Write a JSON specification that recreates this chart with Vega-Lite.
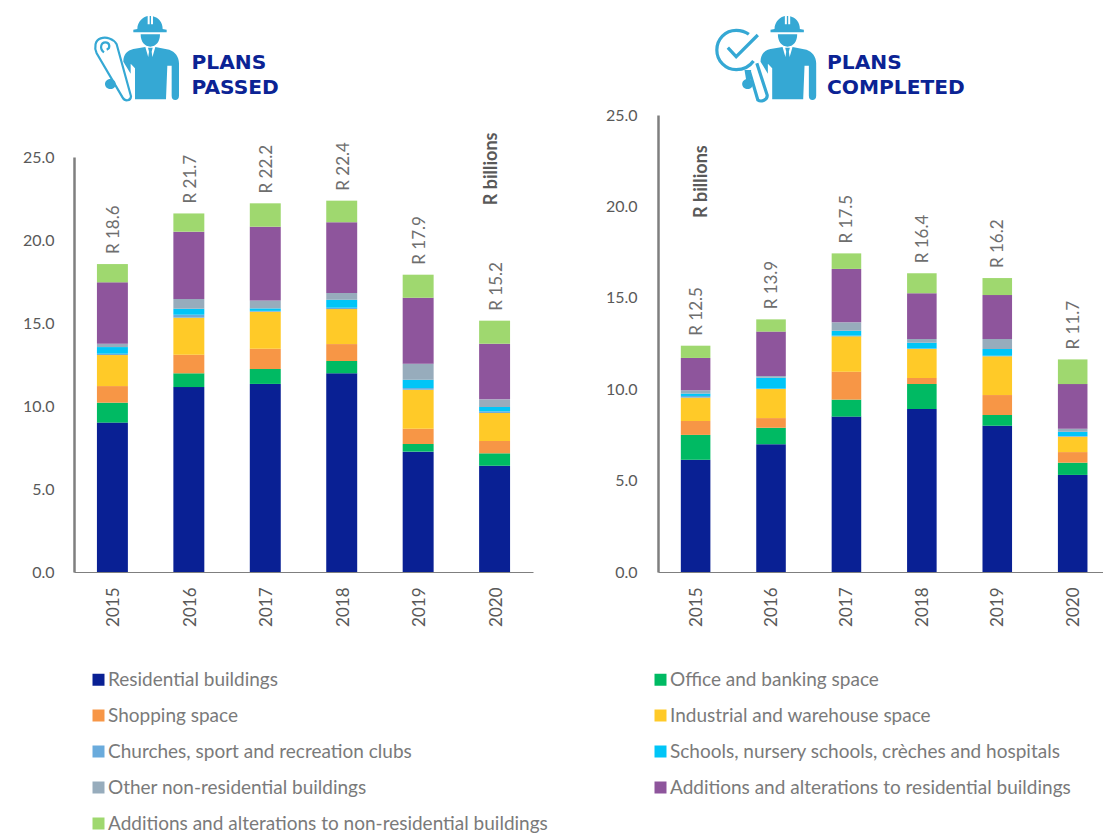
{"$schema":"https://vega.github.io/schema/vega-lite/v6.json","background":"white","padding":{"left":22,"top":0,"right":0,"bottom":0},"config":{"view":{"stroke":null},"font":"Lato","axis":{"labelFont":"Lato","grid":false,"ticks":false,"title":null}},
"datasets":{
"passed":[
{"year":"2015","category":"Residential buildings","rank":1,"value":9.0},{"year":"2015","category":"Office and banking space","rank":2,"value":1.2},{"year":"2015","category":"Shopping space","rank":3,"value":1.0},{"year":"2015","category":"Industrial and warehouse space","rank":4,"value":1.87},{"year":"2015","category":"Churches, sport and recreation clubs","rank":5,"value":0.08},{"year":"2015","category":"Schools, nursery schools, crèches and hospitals","rank":6,"value":0.4},{"year":"2015","category":"Other non-residential buildings","rank":7,"value":0.2},{"year":"2015","category":"Additions and alterations to residential buildings","rank":8,"value":3.7},{"year":"2015","category":"Additions and alterations to non-residential buildings","rank":9,"value":1.1},
{"year":"2016","category":"Residential buildings","rank":1,"value":11.14},{"year":"2016","category":"Office and banking space","rank":2,"value":0.83},{"year":"2016","category":"Shopping space","rank":3,"value":1.12},{"year":"2016","category":"Industrial and warehouse space","rank":4,"value":2.23},{"year":"2016","category":"Churches, sport and recreation clubs","rank":5,"value":0.18},{"year":"2016","category":"Schools, nursery schools, crèches and hospitals","rank":6,"value":0.36},{"year":"2016","category":"Other non-residential buildings","rank":7,"value":0.59},{"year":"2016","category":"Additions and alterations to residential buildings","rank":8,"value":4.05},{"year":"2016","category":"Additions and alterations to non-residential buildings","rank":9,"value":1.1},
{"year":"2017","category":"Residential buildings","rank":1,"value":11.33},{"year":"2017","category":"Office and banking space","rank":2,"value":0.9},{"year":"2017","category":"Shopping space","rank":3,"value":1.22},{"year":"2017","category":"Industrial and warehouse space","rank":4,"value":2.23},{"year":"2017","category":"Churches, sport and recreation clubs","rank":5,"value":0.05},{"year":"2017","category":"Schools, nursery schools, crèches and hospitals","rank":6,"value":0.15},{"year":"2017","category":"Other non-residential buildings","rank":7,"value":0.48},{"year":"2017","category":"Additions and alterations to residential buildings","rank":8,"value":4.44},{"year":"2017","category":"Additions and alterations to non-residential buildings","rank":9,"value":1.41},
{"year":"2018","category":"Residential buildings","rank":1,"value":11.97},{"year":"2018","category":"Office and banking space","rank":2,"value":0.74},{"year":"2018","category":"Shopping space","rank":3,"value":1.02},{"year":"2018","category":"Industrial and warehouse space","rank":4,"value":2.11},{"year":"2018","category":"Churches, sport and recreation clubs","rank":5,"value":0.08},{"year":"2018","category":"Schools, nursery schools, crèches and hospitals","rank":6,"value":0.48},{"year":"2018","category":"Other non-residential buildings","rank":7,"value":0.41},{"year":"2018","category":"Additions and alterations to residential buildings","rank":8,"value":4.26},{"year":"2018","category":"Additions and alterations to non-residential buildings","rank":9,"value":1.3},
{"year":"2019","category":"Residential buildings","rank":1,"value":7.25},{"year":"2019","category":"Office and banking space","rank":2,"value":0.46},{"year":"2019","category":"Shopping space","rank":3,"value":0.92},{"year":"2019","category":"Industrial and warehouse space","rank":4,"value":2.35},{"year":"2019","category":"Churches, sport and recreation clubs","rank":5,"value":0.1},{"year":"2019","category":"Schools, nursery schools, crèches and hospitals","rank":6,"value":0.5},{"year":"2019","category":"Other non-residential buildings","rank":7,"value":0.97},{"year":"2019","category":"Additions and alterations to residential buildings","rank":8,"value":3.97},{"year":"2019","category":"Additions and alterations to non-residential buildings","rank":9,"value":1.39},
{"year":"2020","category":"Residential buildings","rank":1,"value":6.4},{"year":"2020","category":"Office and banking space","rank":2,"value":0.75},{"year":"2020","category":"Shopping space","rank":3,"value":0.74},{"year":"2020","category":"Industrial and warehouse space","rank":4,"value":1.69},{"year":"2020","category":"Churches, sport and recreation clubs","rank":5,"value":0.1},{"year":"2020","category":"Schools, nursery schools, crèches and hospitals","rank":6,"value":0.26},{"year":"2020","category":"Other non-residential buildings","rank":7,"value":0.46},{"year":"2020","category":"Additions and alterations to residential buildings","rank":8,"value":3.35},{"year":"2020","category":"Additions and alterations to non-residential buildings","rank":9,"value":1.39}
],
"completed":[
{"year":"2015","category":"Residential buildings","rank":1,"value":6.14},{"year":"2015","category":"Office and banking space","rank":2,"value":1.36},{"year":"2015","category":"Shopping space","rank":3,"value":0.76},{"year":"2015","category":"Industrial and warehouse space","rank":4,"value":1.28},{"year":"2015","category":"Churches, sport and recreation clubs","rank":5,"value":0.09},{"year":"2015","category":"Schools, nursery schools, crèches and hospitals","rank":6,"value":0.13},{"year":"2015","category":"Other non-residential buildings","rank":7,"value":0.18},{"year":"2015","category":"Additions and alterations to residential buildings","rank":8,"value":1.77},{"year":"2015","category":"Additions and alterations to non-residential buildings","rank":9,"value":0.67},
{"year":"2016","category":"Residential buildings","rank":1,"value":6.99},{"year":"2016","category":"Office and banking space","rank":2,"value":0.9},{"year":"2016","category":"Shopping space","rank":3,"value":0.53},{"year":"2016","category":"Industrial and warehouse space","rank":4,"value":1.59},{"year":"2016","category":"Churches, sport and recreation clubs","rank":5,"value":0.02},{"year":"2016","category":"Schools, nursery schools, crèches and hospitals","rank":6,"value":0.6},{"year":"2016","category":"Other non-residential buildings","rank":7,"value":0.09},{"year":"2016","category":"Additions and alterations to residential buildings","rank":8,"value":2.43},{"year":"2016","category":"Additions and alterations to non-residential buildings","rank":9,"value":0.67},
{"year":"2017","category":"Residential buildings","rank":1,"value":8.5},{"year":"2017","category":"Office and banking space","rank":2,"value":0.93},{"year":"2017","category":"Shopping space","rank":3,"value":1.53},{"year":"2017","category":"Industrial and warehouse space","rank":4,"value":1.93},{"year":"2017","category":"Churches, sport and recreation clubs","rank":5,"value":0.04},{"year":"2017","category":"Schools, nursery schools, crèches and hospitals","rank":6,"value":0.27},{"year":"2017","category":"Other non-residential buildings","rank":7,"value":0.46},{"year":"2017","category":"Additions and alterations to residential buildings","rank":8,"value":2.92},{"year":"2017","category":"Additions and alterations to non-residential buildings","rank":9,"value":0.85},
{"year":"2018","category":"Residential buildings","rank":1,"value":8.92},{"year":"2018","category":"Office and banking space","rank":2,"value":1.36},{"year":"2018","category":"Shopping space","rank":3,"value":0.33},{"year":"2018","category":"Industrial and warehouse space","rank":4,"value":1.59},{"year":"2018","category":"Churches, sport and recreation clubs","rank":5,"value":0.03},{"year":"2018","category":"Schools, nursery schools, crèches and hospitals","rank":6,"value":0.31},{"year":"2018","category":"Other non-residential buildings","rank":7,"value":0.21},{"year":"2018","category":"Additions and alterations to residential buildings","rank":8,"value":2.5},{"year":"2018","category":"Additions and alterations to non-residential buildings","rank":9,"value":1.09},
{"year":"2019","category":"Residential buildings","rank":1,"value":8.0},{"year":"2019","category":"Office and banking space","rank":2,"value":0.59},{"year":"2019","category":"Shopping space","rank":3,"value":1.09},{"year":"2019","category":"Industrial and warehouse space","rank":4,"value":2.12},{"year":"2019","category":"Churches, sport and recreation clubs","rank":5,"value":0.03},{"year":"2019","category":"Schools, nursery schools, crèches and hospitals","rank":6,"value":0.37},{"year":"2019","category":"Other non-residential buildings","rank":7,"value":0.55},{"year":"2019","category":"Additions and alterations to residential buildings","rank":8,"value":2.4},{"year":"2019","category":"Additions and alterations to non-residential buildings","rank":9,"value":0.93},
{"year":"2020","category":"Residential buildings","rank":1,"value":5.31},{"year":"2020","category":"Office and banking space","rank":2,"value":0.67},{"year":"2020","category":"Shopping space","rank":3,"value":0.58},{"year":"2020","category":"Industrial and warehouse space","rank":4,"value":0.84},{"year":"2020","category":"Churches, sport and recreation clubs","rank":5,"value":0.04},{"year":"2020","category":"Schools, nursery schools, crèches and hospitals","rank":6,"value":0.23},{"year":"2020","category":"Other non-residential buildings","rank":7,"value":0.17},{"year":"2020","category":"Additions and alterations to residential buildings","rank":8,"value":2.44},{"year":"2020","category":"Additions and alterations to non-residential buildings","rank":9,"value":1.35}
],
"passedTotals":[{"year":"2015","total":18.55,"label":"R 18.6"},{"year":"2016","total":21.6,"label":"R 21.7"},{"year":"2017","total":22.2,"label":"R 22.2"},{"year":"2018","total":22.37,"label":"R 22.4"},{"year":"2019","total":17.91,"label":"R 17.9"},{"year":"2020","total":15.14,"label":"R 15.2"}],
"completedTotals":[{"year":"2015","total":12.38,"label":"R 12.5"},{"year":"2016","total":13.82,"label":"R 13.9"},{"year":"2017","total":17.43,"label":"R 17.5"},{"year":"2018","total":16.34,"label":"R 16.4"},{"year":"2019","total":16.08,"label":"R 16.2"},{"year":"2020","total":11.63,"label":"R 11.7"}]
},
"spacing":72,
"hconcat":[
{"spacing":0,"bounds":"flush","vconcat":[
{"width":459,"height":157,"encoding":{"x":{"field":"x","type":"quantitative","scale":{"domain":[0,459],"nice":false},"axis":null},"y":{"field":"y","type":"quantitative","scale":{"domain":[157,0],"nice":false},"axis":null}},"layer":[
{"data":{"values":[{"x":6,"y":5}]},"mark":{"type":"point","filled":true,"opacity":1,"color":"#35A8D4","size":0.4444,"shape":"M172,72C172,50 190,35 203,33L203,58L209,58L209,33L213,33L213,58L219,58L219,34C235,38 248,52 248,72L260,74L260,82L160,82L160,74ZM182,88L240,88C240,110 228,125 211,125C194,125 182,110 182,88ZM130,170C130,148 142,136 160,132L196,126L211,178L226,126L268,134C285,140 297,155 297,175L297,272C297,281 292,285 286,285C279,285 275,281 275,272L275,182L262,182L258,283L165,283L165,190L152,176L152,206ZM204,128L218,128L215,140L219,168L211,178L203,168L207,140ZM75,237C75,228 83,222 92,222C100,222 107,229 107,237C107,246 100,252 92,252C83,252 75,246 75,237Z"}},
{"data":{"values":[{"x":6,"y":5}]},"mark":{"type":"point","filled":false,"opacity":1,"color":"#35A8D4","strokeWidth":2.2,"size":0.4444,"shape":"M62,100C45,105 42,128 50,145L128,278C135,290 152,288 153,274L110,118C100,100 78,95 62,100ZM72,142C58,132 62,112 76,112C90,112 92,130 80,134"}},
{"data":{"values":[{"x":117.5,"y":63,"t":"PLANS"},{"x":117.5,"y":88,"t":"PASSED"}]},"mark":{"type":"text","align":"left","baseline":"middle","font":"DejaVu Sans","fontWeight":"bold","fontSize":20.2,"color":"#0B2394"},"encoding":{"text":{"field":"t"}}}
]},
{"width":459,"height":415,"encoding":{"x":{"field":"year","type":"nominal","scale":{"paddingInner":0.595,"paddingOuter":0.3},"axis":{"labelAngle":-90,"labelFontSize":17,"labelColor":"#595959","labelPadding":15,"labelOffset":2,"domainColor":"#7f7f7f","domainWidth":1,"labelBaseline":"middle"}}},
"layer":[
{"data":{"name":"passed"},"mark":{"type":"bar"},"encoding":{"y":{"field":"value","type":"quantitative","stack":"zero","scale":{"domain":[0,25],"nice":false},"axis":{"values":[0,5,10,15,20,25],"format":".1f","labelFontSize":16,"labelColor":"#595959","labelPadding":20,"domainColor":"#7f7f7f","domainWidth":2.5}},"order":{"field":"rank","type":"quantitative"},"color":{"field":"category","type":"nominal","scale":{"domain":["Residential buildings","Office and banking space","Shopping space","Industrial and warehouse space","Churches, sport and recreation clubs","Schools, nursery schools, crèches and hospitals","Other non-residential buildings","Additions and alterations to residential buildings","Additions and alterations to non-residential buildings"],"range":["#092094","#00BA63","#F79646","#FFCA28","#6AABDC","#00C5F7","#97ACBC","#8E559C","#9FD86F"]},"legend":{"title":null,"orient":"none","legendX":15,"legendY":670,"direction":"horizontal","columns":2,"columnPadding":103,"rowPadding":16,"symbolType":"square","symbolSize":144,"symbolStrokeWidth":0,"labelFont":"Lato","labelFontSize":19,"labelColor":"#7a7a7a","labelLimit":600,"labelOffset":0,"symbolOpacity":1}}}},
{"data":{"name":"passedTotals"},"mark":{"type":"text","angle":270,"align":"left","baseline":"middle","dx":10,"dy":2,"fontSize":17,"color":"#6e6e6e"},"encoding":{"y":{"field":"total","type":"quantitative","scale":{"domain":[0,25],"nice":false}},"text":{"field":"label"}}},
{"data":{"values":[{"year":"2020","y":22.1,"t":"R billions"}]},"mark":{"type":"text","angle":270,"align":"left","baseline":"middle","dy":-3,"fontSize":18,"fontWeight":"bold","color":"#595959"},"encoding":{"y":{"field":"y","type":"quantitative","scale":{"domain":[0,25],"nice":false}},"text":{"field":"t"}}}
]}
]},
{"spacing":0,"bounds":"flush","vconcat":[
{"width":444.5,"height":115,"encoding":{"x":{"field":"x","type":"quantitative","scale":{"domain":[0,444.5],"nice":false},"axis":null},"y":{"field":"y","type":"quantitative","scale":{"domain":[115,0],"nice":false},"axis":null}},"layer":[
{"data":{"values":[{"x":59.2,"y":5}]},"mark":{"type":"point","filled":true,"opacity":1,"color":"#35A8D4","size":0.4444,"shape":"M172,72C172,50 190,35 203,33L203,58L209,58L209,33L213,33L213,58L219,58L219,34C235,38 248,52 248,72L260,74L260,82L160,82L160,74ZM182,88L240,88C240,110 228,125 211,125C194,125 182,110 182,88ZM130,170C130,148 142,136 160,132L196,126L211,178L226,126L268,134C285,140 297,155 297,175L297,272C297,281 292,285 286,285C279,285 275,281 275,272L275,182L262,182L258,283L165,283L165,190L152,176L152,206ZM204,128L218,128L215,140L219,168L211,178L203,168L207,140Z"}},
{"data":{"values":[{"x":41.5,"y":5}]},"mark":{"type":"point","filled":false,"opacity":1,"color":"#35A8D4","strokeWidth":3.2,"size":0.4444,"shape":"M148,88C136,79 124,76 110,76C77,76 52,103 52,135C52,168 78,194 110,194C130,194 150,185 162,168M85,128L110,155L175,90M150,200L175,285C185,292 205,285 203,270L172,175"}},
{"data":{"values":[{"x":41.5,"y":5}]},"mark":{"type":"point","filled":true,"opacity":1,"color":"#35A8D4","size":0.4444,"shape":"M128,237C128,228 136,222 145,222C153,222 160,229 160,237C160,246 153,252 145,252C136,252 128,246 128,237ZM135,195L155,195L152,225L140,225Z"}},
{"data":{"values":[{"x":169,"y":63,"t":"PLANS"},{"x":169,"y":88,"t":"COMPLETED"}]},"mark":{"type":"text","align":"left","baseline":"middle","font":"DejaVu Sans","fontWeight":"bold","fontSize":20.2,"color":"#0B2394"},"encoding":{"text":{"field":"t"}}}
]},
{"width":444.5,"height":457,"encoding":{"x":{"field":"year","type":"nominal","scale":{"paddingInner":0.608,"paddingOuter":0.251,"align":0.603},"axis":{"labelAngle":-90,"labelFontSize":17,"labelColor":"#595959","labelPadding":15,"labelOffset":1,"domainColor":"#7f7f7f","domainWidth":1,"labelBaseline":"middle"}}},
"layer":[
{"data":{"name":"completed"},"mark":{"type":"bar"},"encoding":{"y":{"field":"value","type":"quantitative","stack":"zero","scale":{"domain":[0,25],"nice":false},"axis":{"values":[0,5,10,15,20,25],"format":".1f","labelFontSize":16,"labelColor":"#595959","labelPadding":21,"domainColor":"#7f7f7f","domainWidth":2.5}},"order":{"field":"rank","type":"quantitative"},"color":{"field":"category","type":"nominal"}}},
{"data":{"name":"completedTotals"},"mark":{"type":"text","angle":270,"align":"left","baseline":"middle","dx":10,"dy":1,"fontSize":17,"color":"#6e6e6e"},"encoding":{"y":{"field":"total","type":"quantitative","scale":{"domain":[0,25],"nice":false}},"text":{"field":"label"}}},
{"data":{"values":[{"year":"2015","y":19.37,"t":"R billions"}]},"mark":{"type":"text","angle":270,"align":"left","baseline":"middle","dy":6,"fontSize":18,"fontWeight":"bold","color":"#595959"},"encoding":{"y":{"field":"y","type":"quantitative","scale":{"domain":[0,25],"nice":false}},"text":{"field":"t"}}}
]}
]}
]}
